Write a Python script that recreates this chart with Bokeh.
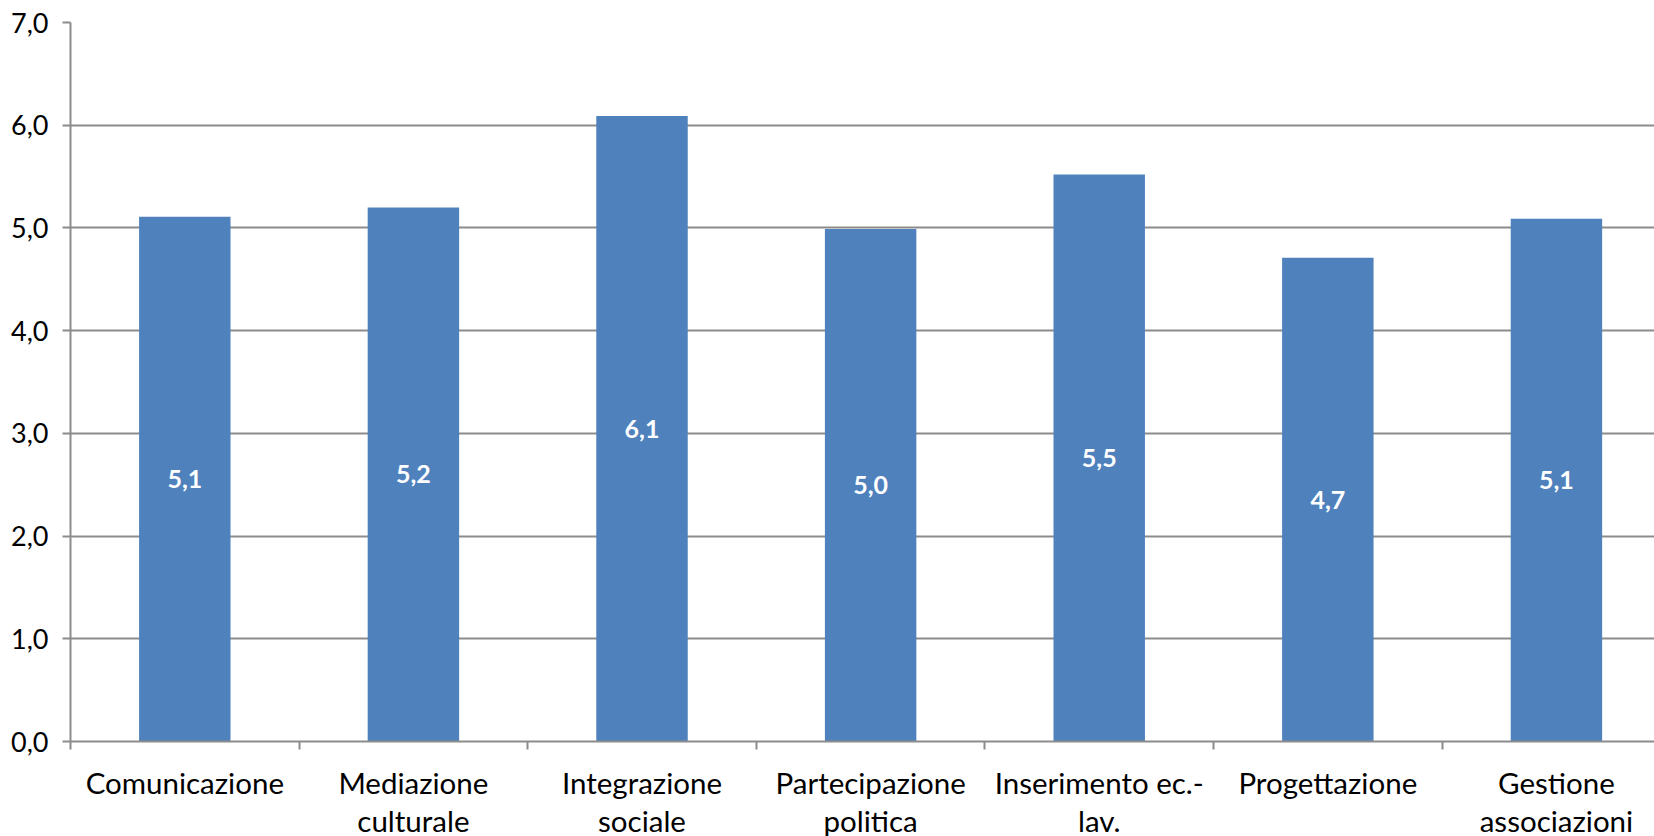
from bokeh.plotting import figure
from bokeh.models import Range1d, FixedTicker, ColumnDataSource
from bokeh.embed import file_html
from bokeh.resources import INLINE
from bokeh.core.properties import value

# ---- data ----
categories = ["Comunicazione", "Mediazione\nculturale", "Integrazione\nsociale",
              "Partecipazione\npolitica", "Inserimento ec.-\nlav.", "Progettazione",
              "Gestione\nassociazioni"]
values = [5.11, 5.20, 6.09, 4.99, 5.52, 4.71, 5.09]
value_labels = ["5,1", "5,2", "6,1", "5,0", "5,5", "4,7", "5,1"]
y_ticks = [0, 1, 2, 3, 4, 5, 6, 7]
y_tick_labels = ["0,0", "1,0", "2,0", "3,0", "4,0", "5,0", "6,0", "7,0"]

# ---- derived ----
n = len(categories)
x_center = [i + 0.5 for i in range(n)]
label_y = [v / 2 for v in values]
src = ColumnDataSource(dict(x=x_center, top=values, ly=label_y, lbl=value_labels))

GRID = "#8c8c8c"
FONT = "Lato"

p = figure(frame_width=1584, frame_height=719,
           x_range=Range1d(0, 6.929), y_range=Range1d(0, 7),
           output_backend="svg", toolbar_location=None,
           min_border_left=70, min_border_top=22, min_border_right=0,
           min_border_bottom=95)
p.outline_line_color = None
p.background_fill_color = "white"
p.border_fill_color = "white"

p.vbar(x="x", top="top", width=0.4, source=src,
       fill_color="#4F81BD", line_color=None)
p.text(x="x", y="ly", text="lbl", source=src, text_color="white",
       text_font=value(FONT), text_font_style="bold", text_font_size="25px",
       text_align="center", text_baseline="middle")

# x axis: labels at centres, tick marks at category boundaries
xa = p.xaxis[0]
xa.ticker = FixedTicker(ticks=x_center, minor_ticks=list(range(0, n)))
xa.major_label_overrides = {float(x): c for x, c in zip(x_center, categories)}
xa.major_tick_out = 0
xa.major_tick_in = 0
xa.minor_tick_out = 8
xa.minor_tick_in = 0
xa.minor_tick_line_color = GRID
xa.minor_tick_line_width = 2
xa.axis_line_color = GRID
xa.axis_line_width = 2
xa.major_label_text_font = FONT
xa.major_label_text_font_size = "29.5px"
xa.major_label_text_color = "black"
xa.major_label_text_line_height = 1.11
xa.major_label_standoff = 15

ya = p.yaxis[0]
ya.ticker = FixedTicker(ticks=y_ticks)
ya.major_label_overrides = {t: l for t, l in zip(y_ticks, y_tick_labels)}
ya.major_tick_out = 8
ya.major_tick_in = 0
ya.major_tick_line_color = GRID
ya.major_tick_line_width = 2
ya.minor_tick_line_color = None
ya.axis_line_color = GRID
ya.axis_line_width = 2
ya.major_label_text_font = FONT
ya.major_label_text_font_size = "27px"
ya.major_label_text_color = "black"
ya.major_label_standoff = 14

p.xgrid.visible = False
p.ygrid.ticker = FixedTicker(ticks=y_ticks)
p.ygrid.grid_line_color = GRID
p.ygrid.grid_line_width = 2

open("out.html", "w").write(file_html(p, INLINE))
